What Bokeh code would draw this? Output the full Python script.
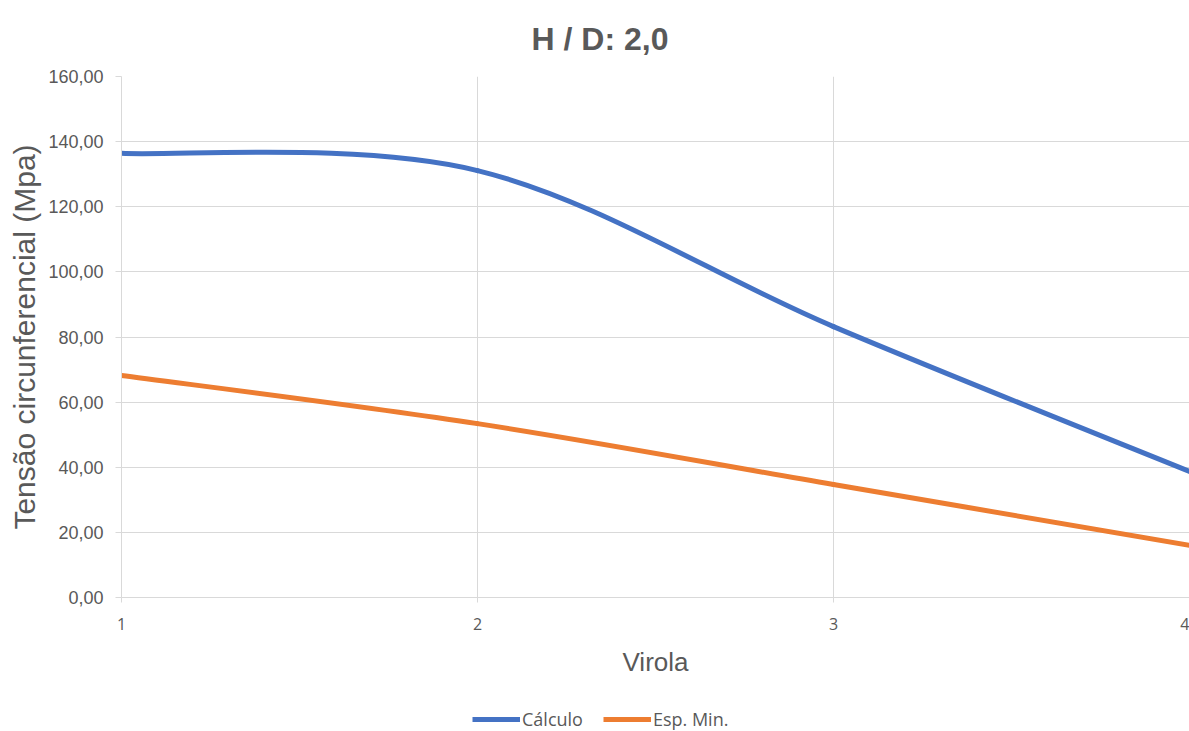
from bokeh.plotting import figure
from bokeh.layouts import column
from bokeh.models import (Range1d, FixedTicker, CustomJSTickFormatter, Legend,
                          LegendItem, ColumnDataSource)
from bokeh.embed import file_html
from bokeh.resources import INLINE

# Data
virola = [1, 2, 3, 4]
calculo = [136.4, 131.1, 83.2, 38.7]
esp_min = [68.2, 53.4, 34.7, 16.0]
y_ticks = [0, 20, 40, 60, 80, 100, 120, 140, 160]
x_ticks = [1, 2, 3, 4]

BLUE = "#4472C4"
ORANGE = "#ED7D31"
GRAY_TEXT = "#595959"
GRID = "#d9d9d9"


def smooth_segments(xs, ys):
    """Cubic Bezier segments (Catmull-Rom style) through the given points."""
    n = len(xs)
    x0, y0, x1, y1, cx0, cy0, cx1, cy1 = [], [], [], [], [], [], [], []
    for i in range(n - 1):
        ip = max(i - 1, 0)
        inx = min(i + 2, n - 1)
        x0.append(xs[i]); y0.append(ys[i])
        x1.append(xs[i + 1]); y1.append(ys[i + 1])
        cx0.append(xs[i] + (xs[i + 1] - xs[ip]) / 6)
        cy0.append(ys[i] + (ys[i + 1] - ys[ip]) / 6)
        cx1.append(xs[i + 1] - (xs[inx] - xs[i]) / 6)
        cy1.append(ys[i + 1] - (ys[inx] - ys[i]) / 6)
    return ColumnDataSource(dict(x0=x0, y0=y0, x1=x1, y1=y1,
                                 cx0=cx0, cy0=cy0, cx1=cx1, cy1=cy1))


p = figure(width=1189, height=700, output_backend="svg", toolbar_location=None,
           x_range=Range1d(1, 4), y_range=Range1d(0, 160),
           min_border_left=121, min_border_right=0,
           min_border_top=76, min_border_bottom=103)

p.outline_line_color = None
p.background_fill_color = "white"
p.border_fill_color = "white"

yax = p.left[0]
xax = p.below[0]

# Title
p.title.text = "H / D: 2,0"
p.title.align = "left"
p.title.vertical_align = "top"
p.title.offset = 410
p.title.text_font = "Liberation Sans"
p.title.text_font_size = "32px"
p.title.text_font_style = "bold"
p.title.text_color = GRAY_TEXT
p.title.standoff = 36

# Axes
yax.ticker = FixedTicker(ticks=y_ticks)
yax.formatter = CustomJSTickFormatter(code="return tick.toFixed(2).replace('.', ',');")
yax.axis_label = "Tensão circunferencial (Mpa)"
yax.axis_label_text_font = "Liberation Sans"
yax.axis_label_text_font_size = "30px"
yax.axis_label_text_font_style = "normal"
yax.axis_label_text_color = GRAY_TEXT
yax.axis_label_standoff = 4
yax.major_label_text_font = "Liberation Sans"
yax.major_label_text_font_size = "18px"
yax.major_label_text_color = GRAY_TEXT
yax.major_label_standoff = 12
yax.axis_line_color = GRID
yax.major_tick_line_color = GRID
yax.major_tick_out = 6
yax.major_tick_in = 0
yax.minor_tick_line_color = None

xax.ticker = FixedTicker(ticks=x_ticks)
xax.axis_label = "Virola"
xax.axis_label_text_font = "Liberation Sans"
xax.axis_label_text_font_size = "26px"
xax.axis_label_text_font_style = "normal"
xax.axis_label_text_color = GRAY_TEXT
xax.axis_label_standoff = 14
xax.major_label_text_font = "Open Sans"
xax.major_label_text_font_size = "16px"
xax.major_label_text_color = GRAY_TEXT
xax.major_label_standoff = 15
xax.axis_line_color = GRID
xax.major_tick_line_color = GRID
xax.major_tick_out = 5
xax.major_tick_in = 0
xax.minor_tick_line_color = None

p.xgrid.ticker = FixedTicker(ticks=x_ticks)
p.ygrid.ticker = FixedTicker(ticks=y_ticks)
p.xgrid.grid_line_color = GRID
p.ygrid.grid_line_color = GRID

# Smoothed series
bez = dict(x0="x0", y0="y0", x1="x1", y1="y1", cx0="cx0", cy0="cy0",
           cx1="cx1", cy1="cy1", line_width=5, line_cap="round")
p.bezier(source=smooth_segments(virola, calculo), line_color=BLUE, **bez)
p.bezier(source=smooth_segments(virola, esp_min), line_color=ORANGE, **bez)

# Legend strip underneath the chart
leg = figure(width=1189, height=31, output_backend="svg", toolbar_location=None,
             x_range=Range1d(10, 11), y_range=Range1d(0, 1),
             x_axis_location=None, y_axis_location=None,
             min_border=0, outline_line_color=None)
leg.grid.visible = False
k_calc = leg.line(virola, calculo, line_color=BLUE, line_width=5)
k_esp = leg.line(virola, esp_min, line_color=ORANGE, line_width=5)

legend = Legend(items=[LegendItem(label="Cálculo", renderers=[k_calc]),
                       LegendItem(label="Esp. Min.", renderers=[k_esp])],
                orientation="horizontal", location=(351, 0),
                label_text_font="Open Sans", label_text_font_size="18px",
                label_text_color=GRAY_TEXT, glyph_width=48, glyph_height=20,
                label_standoff=2, spacing=20, padding=0, margin=0,
                border_line_color=None, background_fill_alpha=0)
leg.add_layout(legend, "center")

page = column(p, leg, spacing=0)
open("out.html", "w").write(file_html(page, INLINE))
